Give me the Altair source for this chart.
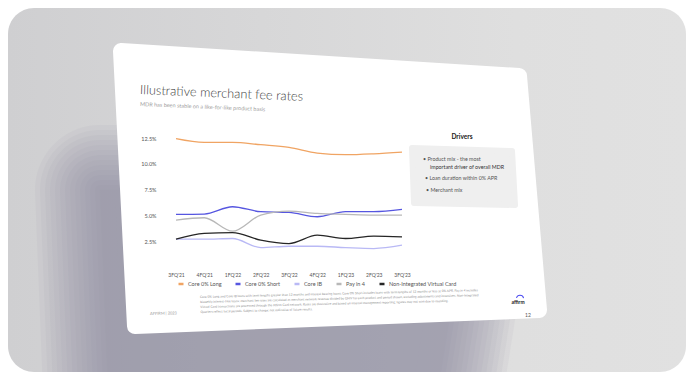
import altair as alt
import pandas as pd

# ---------------- data ----------------
quarters = ["3FQ'21", "4FQ'21", "1FQ'22", "2FQ'22", "3FQ'22", "4FQ'22", "1FQ'23", "2FQ'23", "3FQ'23"]
core_long = [12.44, 12.08, 12.08, 11.85, 11.59, 11.04, 10.88, 10.97, 11.14]
core_short = [5.10, 5.13, 5.84, 5.36, 5.29, 4.87, 5.36, 5.36, 5.58]
core_ib = [2.70, 2.70, 2.76, 1.88, 2.01, 2.01, 1.88, 1.79, 2.11]
pay_in_4 = [4.55, 4.77, 3.47, 5.03, 5.42, 5.19, 5.10, 5.03, 5.03]
virtual_card = [2.70, 3.25, 3.34, 2.60, 2.27, 3.08, 2.76, 2.99, 2.92]
series_names = ["Core 0% Long", "Core 0% Short", "Core IB", "Pay in 4", "Non-Integrated Virtual Card"]
y_ticks = [2.5, 5.0, 7.5, 10.0, 12.5]

title_text = "Illustrative merchant fee rates"
subtitle_text = "MDR has been stable on a like-for-like product basis"
drivers_title = "Drivers"
drivers_lines = ["•   Product mix - the most", "important driver of overall MDR",
                 "•   Loan duration within 0% APR", "•   Merchant mix"]
footnote_lines = [
    "Core 0% Long and Core IB loans with term lengths greater than 12 months and interest bearing loans; Core 0% Short includes loans with term lengths of 12 months or less at 0% APR. Pay in 4 includes",
    "biweekly interest-free loans; merchant fee rates are calculated as merchant network revenue divided by GMV for each product and period shown, excluding adjustments and incentives. Non-Integrated",
    "Virtual Card transactions are processed through the Affirm Card network. Rates are illustrative and based on internal management reporting; figures may not sum due to rounding.",
    "Quarters reflect fiscal periods. Subject to change; not indicative of future results.",
]
footer_left = "AFFIRM  |  2023"
logo_text = "affirm"
page_no = "12"

rows = []
for name, vals in zip(series_names, [core_long, core_short, core_ib, pay_in_4, virtual_card]):
    for q, v in zip(quarters, vals):
        rows.append({"quarter": q, "rate": v, "series": name})
df = pd.DataFrame(rows)

# ---------------- layout (screen px -> plot px) ----------------
OX, OY = 176, 138
PW, PH = 226, 129
CW, CH = 678, 364


def px(x):
    return x - OX


def py(y):
    return y - OY


one = pd.DataFrame({"a": [0]})
FONT = "Lato"


def poly(pts):
    return pd.DataFrame({"px": [px(a) for a, b in pts], "py": [py(b) for a, b in pts],
                         "o": list(range(len(pts)))})


def poly_layer(pts, **mk):
    return alt.Chart(poly(pts)).mark_line(interpolate="linear-closed", **mk).encode(
        x=alt.X("px:Q", scale=None, axis=None),
        y=alt.Y("py:Q", scale=None, axis=None),
        order="o:Q",
    )


def text_layer(txt, x, y, **mk):
    return alt.Chart(one).mark_text(text=txt, font=FONT, **mk).encode(
        x=alt.value(px(x)), y=alt.value(py(y)))


# background card
bg = alt.Chart(one).mark_rect(
    cornerRadius=26,
    fill=alt.LinearGradient(gradient="linear", x1=0, x2=1, y1=0, y2=0, stops=[
        alt.GradientStop(offset=0, color="#cfcfd1"),
        alt.GradientStop(offset=0.75, color="#dfdfdf"),
        alt.GradientStop(offset=1, color="#e1e1e1"),
    ]),
).encode(x=alt.value(px(8)), x2=alt.value(px(686)), y=alt.value(py(8)), y2=alt.value(py(372)))

# soft drop shadow built from stacked, progressively widened translucent polygons
shadow_pts = [(100, 190), (470, 190), (430, 440), (110, 440)]
shadow_layers = [
    poly_layer(shadow_pts, fill="#8a889e", stroke="#8a889e", strokeWidth=w,
               strokeJoin="round", opacity=0.065)
    for w in [0.5, 10, 20, 30, 40, 50, 60, 70, 80, 90, 100, 110, 120, 130]
]

slide = poly_layer([(121, 51), (519, 76), (539, 310), (135, 326)],
                   fill="#ffffff", stroke="#ffffff", strokeWidth=16, strokeJoin="round")

box = poly_layer([(412, 148), (512, 151), (515, 205), (414, 203)],
                 fill="#efefef", stroke="#efefef", strokeWidth=6, strokeJoin="round")

texts = [
    text_layer(title_text, 140, 90, align="left", baseline="middle", fontSize=12.8,
               fontWeight=300, color="#3a3a3a", angle=2.4),
    text_layer(subtitle_text, 140, 104, align="left", baseline="middle", fontSize=5.5,
               color="#a0a0a0", angle=2.4),
    text_layer(drivers_title, 462, 137, align="center", baseline="middle", fontSize=6.5,
               fontWeight="bold", color="#222222"),
    text_layer(drivers_lines[0], 423, 159, align="left", baseline="middle", fontSize=5.3, color="#555555"),
    text_layer(drivers_lines[1], 430, 167, align="left", baseline="middle", fontSize=5.3, color="#333333"),
    text_layer(drivers_lines[2], 425, 178, align="left", baseline="middle", fontSize=5.3, color="#555555"),
    text_layer(drivers_lines[3], 426, 190, align="left", baseline="middle", fontSize=5.3, color="#555555"),
    text_layer(footnote_lines, 200, 297, align="left", baseline="middle", fontSize=3.2,
               lineHeight=5, color="#8a8a8a", angle=358.6),
    text_layer(footer_left, 150, 314, align="left", baseline="middle", fontSize=4,
               color="#9a9a9a", angle=358.6),
    text_layer(logo_text, 518, 302, align="center", baseline="middle", fontSize=5,
               fontWeight="bold", color="#222222"),
    text_layer(page_no, 528, 315, align="center", baseline="middle", fontSize=5, color="#555555"),
]

logo_arc = alt.Chart(one).mark_arc(theta=5.0, theta2=7.6, radius=4.2, radius2=3.2, color="#4a4af0").encode(
    x=alt.value(px(520)), y=alt.value(py(299)))

series_colors = ["#f0a463", "#5656e0", "#b9b9f5", "#b8b8b8", "#262626"]

lines = alt.Chart(df).mark_line(interpolate="monotone", strokeWidth=1.3).encode(
    x=alt.X("quarter:O", sort=quarters, scale=alt.Scale(type="point", padding=0),
            axis=alt.Axis(title=None, labelAngle=0, ticks=False, domain=False, grid=False, zindex=2,
                          labelFontSize=5, labelColor="#555555", labelPadding=5, labelFont=FONT)),
    y=alt.Y("rate:Q", scale=alt.Scale(domain=[0, 12.5], nice=False),
            axis=alt.Axis(title=None, values=y_ticks, labelExpr="format(datum.value, '.1f') + '%'",
                          ticks=False, domain=False, grid=False, labelPadding=20, zindex=2,
                          labelFontSize=5.5, labelColor="#555555", labelFont=FONT)),
    color=alt.Color("series:N", sort=series_names,
                    scale=alt.Scale(domain=series_names, range=series_colors),
                    legend=alt.Legend(title=None, orient="none", legendX=px(177), legendY=py(280),
                                      direction="horizontal", symbolType="stroke",
                                      symbolStrokeWidth=2.5, symbolSize=25, labelFontSize=5.5,
                                      labelColor="#555555", labelFont=FONT, columnPadding=8,
                                      labelOffset=3, zindex=2)),
)

chart = alt.layer(bg, *shadow_layers, slide, box, *texts, logo_arc, lines).resolve_scale(
    x="independent", y="independent"
).properties(
    width=PW, height=PH,
    autosize=alt.AutoSizeParams(type="none"),
    padding={"left": OX - 8, "top": OY - 8, "right": CW - (OX - 8) - PW, "bottom": CH - (OY - 8) - PH},
    background="#ffffff",
).configure_view(strokeWidth=0)

chart.save("out.html", embed_options={"renderer": "svg", "actions": False})
